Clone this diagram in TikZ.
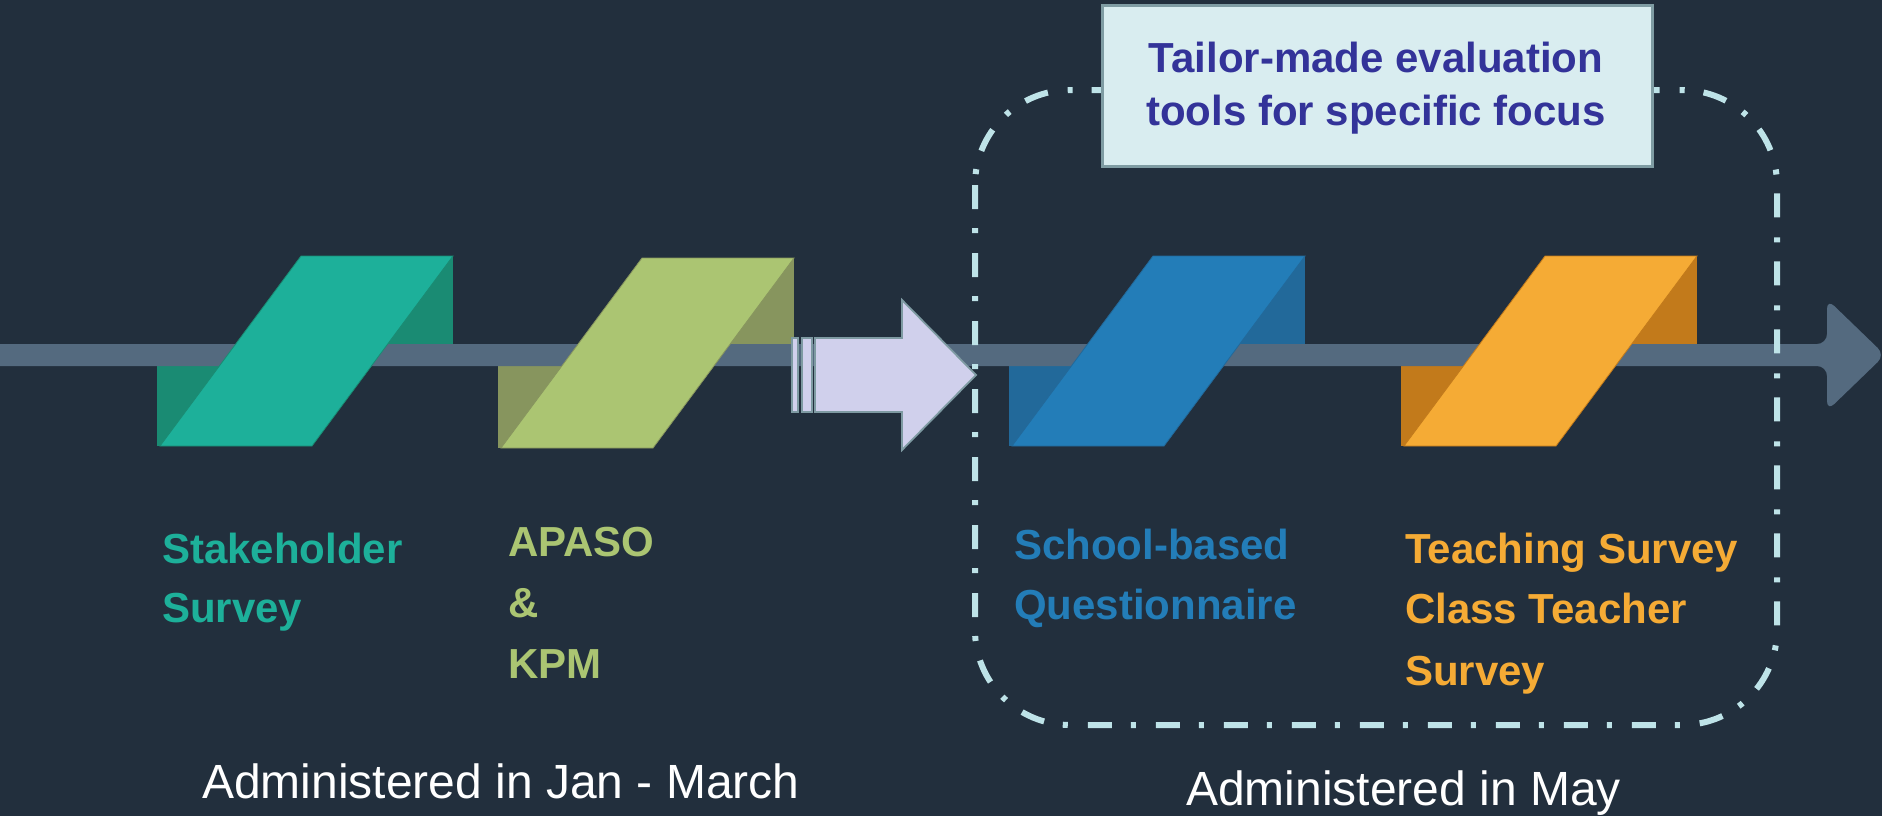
\documentclass[tikz,border=0pt]{standalone}
\usepackage{fontspec}
\setmainfont{Liberation Sans}
\definecolor{bgc}{HTML}{222F3D}
\definecolor{barc}{HTML}{546A7F}
\definecolor{cA}{HTML}{1DB09A}
\definecolor{cAd}{HTML}{1A8B73}
\definecolor{cB}{HTML}{ABC572}
\definecolor{cBd}{HTML}{87955E}
\definecolor{cC}{HTML}{237DB8}
\definecolor{cCd}{HTML}{22699A}
\definecolor{cD}{HTML}{F5AB35}
\definecolor{cDd}{HTML}{C27A1B}
\definecolor{arrfill}{HTML}{D0D0EC}
\definecolor{arrline}{HTML}{7E9AA2}
\definecolor{dashc}{HTML}{BEE3E8}
\definecolor{titfill}{HTML}{D9EDF0}
\definecolor{titline}{HTML}{7F9CA3}
\definecolor{tittext}{HTML}{333399}
\tikzset{
  lab/.style={anchor=base west, inner sep=0pt, font=\fontsize{42}{50}\selectfont\bfseries},
  titlab/.style={anchor=base, inner sep=0pt, text=tittext, font=\fontsize{42}{50}\selectfont\bfseries},
  admin/.style={anchor=base west, inner sep=0pt, text=white, font=\fontsize{48}{58}\selectfont},
  blockarrow/.style={fill=arrfill, draw=arrline, line width=1.8pt, line join=miter},
  dashbox/.style={draw=dashc, line width=6pt, rounded corners=95pt,
    dash pattern=on 24pt off 19pt on 5pt off 20pt},
}
\begin{document}
\begin{tikzpicture}[x=1pt,y=-1pt]
\useasboundingbox (0,0) rectangle (1882,816);
\fill[bgc] (0,0) rectangle (1882,816);
% dark folds behind the tilted blocks
\foreach \x/\yt/\yb/\c in {160/256/446/cA, 501/258/448/cB, 1012/256/446/cC, 1404/256/446/cD}{
  \fill[\c d] ({\x-3},355) rectangle ({\x+152},\yb);
  \fill[\c d] ({\x+141},\yt) rectangle ({\x+293},355);
}
% timeline bar with arrow head
\fill[barc] (0,344) -- (1795,344) [rounded corners=10pt] -- (1827,344) -- (1827,299)
  -- (1885,355) -- (1827,411) -- (1827,366) -- (1795,366) [sharp corners] -- (0,366) -- cycle;
% tilted blocks
\foreach \x/\yt/\yb/\c in {160/256/446/cA, 501/258/448/cB, 1012/256/446/cC, 1404/256/446/cD}{
  \filldraw[fill=\c, draw=\c d, line width=0.8pt] (\x,\yb) -- ({\x+152},\yb) -- ({\x+293},\yt) -- ({\x+141},\yt) -- cycle;
}
% block arrow
\draw[blockarrow] (792,338) rectangle (798,412);
\draw[blockarrow] (802,338) rectangle (812,412);
\draw[blockarrow] (815,338) -- (902,338) -- (902,300) -- (976,375) -- (902,450) -- (902,412) -- (815,412) -- cycle;
% dash-dot group frame
\draw[dashbox] (975,90) rectangle (1777,725);
% title box
\node (titbox) [draw=titline, fill=titfill, line width=3pt, minimum width=550pt, minimum height=161pt, inner sep=0pt, anchor=north west] at (1101,4) {};
\node (t1) [titlab] at (1376,73) {Tailor-made evaluation};
\node (t2) [titlab] at (1376,125) {tools for specific focus};
% labels
\node (a1) [lab, text=cA] at (162,563) {Stakeholder};
\node (a2) [lab, text=cA] at (162,622) {Survey};
\node (b1) [lab, text=cB] at (508,556) {APASO};
\node (b2) [lab, text=cB] at (508,617) {\&};
\node (b3) [lab, text=cB] at (508,678) {KPM};
\node (c1) [lab, text=cC] at (1014,559) {School-based};
\node (c2) [lab, text=cC] at (1014,619) {Questionnaire};
\node (d1) [lab, text=cD] at (1405,563) {Teaching Survey};
\node (d2) [lab, text=cD] at (1405,623) {Class Teacher};
\node (d3) [lab, text=cD] at (1405,685) {Survey};
\node (m1) [admin] at (202,798) {Administered in Jan - March};
\node (m2) [admin] at (1186,805) {Administered in May};
\end{tikzpicture}
\end{document}
